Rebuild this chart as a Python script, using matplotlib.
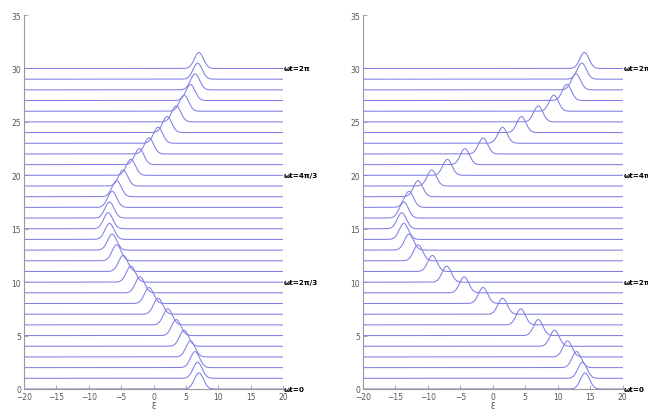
import matplotlib.pyplot as plt
import numpy as np

# offsets (one trace per step), peak positions
levels = list(range(31))
peaks_left = [7.0, 6.8, 6.4, 5.7, 4.7, 3.5, 2.2, 0.7, -0.7, -2.1, -3.5, -4.7, -5.7, -6.4, -6.8, -7.0,
              -6.8, -6.4, -5.7, -4.7, -3.5, -2.2, -0.7, 0.7, 2.1, 3.5, 4.7, 5.7, 6.4, 6.8, 7.0]
peaks_right = [14.2, 13.8, 12.9, 11.5, 9.5, 7.0, 4.3, 1.5, -1.5, -4.4, -7.1, -9.3, -11.5, -12.9, -13.7, -14.0,
               -13.7, -12.9, -11.5, -9.4, -7.0, -4.3, -1.5, 1.5, 4.4, 7.0, 9.4, 11.4, 12.8, 13.7, 14.1]
peak_height = 1.5
peak_width = 0.7
label_levels = [0, 10, 20, 30]
label_texts = ['ωt=0', 'ωt=2π/3', 'ωt=4π/3', 'ωt=2π']

line_color = '#7f7fe6'
xi = np.linspace(-20, 20, 2001)

fig = plt.figure(figsize=(6.48, 4.1), dpi=100)
ax1 = fig.add_axes([0.037, 0.0488, 0.400, 0.912])
ax2 = fig.add_axes([0.560, 0.0488, 0.401, 0.912])

for ax, peaks in [(ax1, peaks_left), (ax2, peaks_right)]:
    for lev, x0 in zip(levels, peaks):
        prof = peak_height * np.exp(-(xi - x0) ** 2 / (2 * peak_width ** 2))
        ax.plot(xi, lev + prof, color=line_color, lw=0.75)
    for lev, txt in zip(label_levels, label_texts):
        ax.text(20.1, lev, txt, fontsize=5.2, fontweight='bold', va='center', ha='left',
                clip_on=False)
    ax.set_xlim(-20, 20)
    ax.set_ylim(0, 35)
    ax.set_xticks(np.arange(-20, 21, 5))
    ax.set_yticks(np.arange(0, 36, 5))
    ax.spines['top'].set_visible(False)
    ax.spines['right'].set_visible(False)
    ax.spines['left'].set_color('#999999')
    ax.spines['bottom'].set_color('#999999')
    ax.tick_params(direction='in', length=3, width=0.6, colors='#999999', labelsize=5.5,
                   labelcolor='#555555', pad=2)
    ax.set_xlabel('ξ', fontsize=6, labelpad=0, color='#555555')

fig.savefig('out.png', dpi=100)
